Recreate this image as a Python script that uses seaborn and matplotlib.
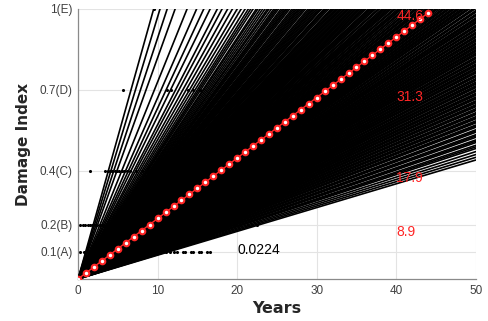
import matplotlib
matplotlib.use("Agg")
import pandas as pd
import matplotlib.pyplot as plt
import seaborn as sns

# years for each sampled path to reach damage index 1 (slope = 1 / years)
fail_years = [
    9.5, 10.3, 11.2, 12.2, 13.7, 14.9,
    15.8, 16.6, 17.5, 18.1, 18.8, 19.4,
    20.0, 20.5, 21.0, 21.4, 21.7, 22.0, 22.4, 22.6, 22.9, 23.2,
    23.5, 23.8, 24.0, 24.3, 24.6, 24.8,
    25.0, 25.2, 25.5, 25.7, 25.9, 26.2, 26.4, 26.6, 26.9, 27.1, 27.3,
    27.5, 27.8, 28.0, 28.2, 28.4, 28.6, 28.9, 29.1, 29.3, 29.5, 29.8,
    30.0, 30.2, 30.4, 30.6, 30.9, 31.1, 31.3, 31.5, 31.8, 32.0, 32.2,
    32.5, 32.7, 32.9, 33.2, 33.4, 33.6, 33.9, 34.1, 34.3, 34.6, 34.8,
    35.0, 35.3, 35.5, 35.7, 36.0, 36.2, 36.5, 36.7, 36.9, 37.2, 37.4,
    37.7, 37.9, 38.2, 38.4, 38.7, 38.9, 39.2, 39.4, 39.7, 39.9,
    40.2, 40.4, 40.7, 41.0, 41.2, 41.5, 41.8, 42.0, 42.3, 42.6, 42.9,
    43.1, 43.4, 43.7, 44.0, 44.3, 44.6, 44.9, 45.2, 45.5, 45.8, 46.1,
    46.4, 46.7, 47.0, 47.3, 47.6, 47.9, 48.2, 48.6, 48.9, 49.2, 49.6, 49.9,
    50.3, 50.6, 51.0, 51.3, 51.7, 52.1, 52.4, 52.8, 53.2, 53.6, 54.0,
    54.3, 54.7, 55.1, 55.5, 55.9, 56.3, 56.8, 57.2, 57.6, 58.0, 58.5,
    58.9, 59.4, 59.8,
    60.3, 60.8, 61.3, 61.8, 62.3, 62.8, 63.4, 63.9, 64.5, 65.0, 65.6,
    66.2, 66.8, 67.4, 68.0, 68.6, 69.3, 69.9, 70.6, 71.3, 72.0, 72.7,
    73.5, 74.2,
    75.0, 75.8, 76.7, 77.5, 78.4, 79.3, 80.2, 81.2, 82.2, 83.2, 84.3,
    85.4, 86.5, 87.7, 89.0,
    90.5, 92.0, 93.6, 95.3, 97.1, 99.0, 101.0, 103.5, 106.0, 108.5,
    111.0, 113.5,
    # second batch of paths, filling the dense core
    26.1, 27.7, 29.6, 30.5, 31.0, 31.9,
    32.4, 33.0, 33.8, 34.5, 35.2, 35.9, 36.6, 37.1, 37.8, 38.5, 39.1,
    39.8, 40.6, 41.1, 41.9, 42.5, 43.3, 43.9, 44.5, 45.1, 45.9, 46.5,
    47.2, 47.8, 48.4, 49.0, 49.7, 50.5, 51.2, 51.9, 52.6, 53.4, 54.1,
    54.9, 55.7, 56.5, 57.4, 58.2, 59.1, 60.0, 61.0, 62.0, 63.1, 64.2,
    65.3, 66.5, 67.8, 69.0, 70.3, 71.7, 73.1, 74.6, 76.2, 78.0, 79.9,
    81.7, 83.8, 86.0, 88.3, 91.2, 94.4, 98.0, 102.2,
]

# observed times at each damage state
obs_a = [0.3, 0.7, 1.1, 1.5, 1.9, 2.3, 2.7, 3.1, 3.5, 3.9, 4.3, 4.7, 5.1,
         5.5, 6.0, 6.4, 6.9, 7.3, 7.8, 8.2, 8.7, 9.1, 9.6, 10.0, 10.5,
         11.0, 11.5, 12.1, 12.4, 13.2, 13.5, 14.2, 14.5, 15.2, 15.5,
         16.2, 16.6]
obs_b = [0.3, 0.6, 0.9, 1.2, 1.5, 1.8, 2.1, 2.4, 2.7, 3.0, 3.3, 3.6,
         3.9, 4.2, 4.6, 19.6, 20.4, 21.3, 21.9, 22.5]
obs_c = [1.5, 3.4, 3.7, 4.0, 4.3, 4.6, 4.9, 5.2, 5.5, 5.8, 6.1, 6.5,
         7.3, 8.0, 8.8, 9.4, 10.3, 11.1, 12.0, 12.9, 13.7]
obs_d = [5.6, 11.2, 11.7, 13.8, 14.4, 15.3]
obs_e = [9.5]

mean_rate = 0.0224
mean_years = list(range(0, 45))

ytick_vals = [0.1, 0.2, 0.4, 0.7, 1.0]
ytick_labels = ["0.1(A)", "0.2(B)", "0.4(C)", "0.7(D)", "1(E)"]
state_levels = [0.2, 0.4, 0.7, 1.0]
state_years = ["8.9", "17.9", "31.3", "44.6"]

RED = "#ff2626"


def main():
    rows = []
    for i, t in enumerate(fail_years):
        rows.append({"line": i, "year": 0.0, "damage": 0.0})
        rows.append({"line": i, "year": 50.0, "damage": 50.0 / t})
    lines = pd.DataFrame(rows)

    obs = pd.DataFrame({
        "year": obs_a + obs_b + obs_c + obs_d + obs_e,
        "damage": [0.1] * len(obs_a) + [0.2] * len(obs_b) + [0.4] * len(obs_c)
                  + [0.7] * len(obs_d) + [1.0] * len(obs_e),
    })

    sns.set_theme(style="whitegrid", rc={"grid.color": "#e3e3e3", "grid.linewidth": 0.8})
    plt.rcParams["font.family"] = ["Liberation Sans", "DejaVu Sans"]

    fig, ax = plt.subplots(figsize=(4.88, 3.21), dpi=100)
    fig.subplots_adjust(left=0.16, right=0.975, bottom=0.131, top=0.972)

    sns.scatterplot(data=obs, x="year", y="damage", color="black", s=5,
                    linewidth=0, ax=ax, zorder=2)
    sns.lineplot(data=lines, x="year", y="damage", units="line", estimator=None,
                 color="black", linewidth=1.2, ax=ax, legend=False, zorder=3)
    ax.plot(mean_years, [mean_rate * t for t in mean_years], "-o", color=RED,
            mfc="white", mec=RED, ms=4.0, mew=1.5, lw=1.0, zorder=5)

    for lvl, lab in zip(state_levels, state_years):
        ax.text(40, lvl, lab, color=RED, fontsize=10, ha="left", va="top", zorder=6)
    ax.text(20, 0.107, str(mean_rate), color="black", fontsize=10,
            ha="left", va="center", zorder=6)

    ax.set_xlim(0, 50)
    ax.set_ylim(0, 1)
    ax.set_xticks([0, 10, 20, 30, 40, 50])
    ax.set_yticks(ytick_vals)
    ax.set_yticklabels(ytick_labels)
    ax.tick_params(direction="in", length=3.5, width=0.8, color="#707070",
                   labelsize=8.5, labelcolor="#404040", pad=4)

    for side in ["top", "right"]:
        ax.spines[side].set_visible(False)
    for side in ["left", "bottom"]:
        ax.spines[side].set_color("#8a8a8a")
        ax.spines[side].set_linewidth(0.9)

    ax.set_xlabel("Years", fontsize=11.5, fontweight="bold", family="DejaVu Sans",
                  labelpad=3)
    ax.set_ylabel("Damage Index", fontsize=11, fontweight="bold", family="DejaVu Sans",
                  labelpad=6)

    plt.savefig("out.png", dpi=100)
    plt.close()


if __name__ == "__main__":
    main()
